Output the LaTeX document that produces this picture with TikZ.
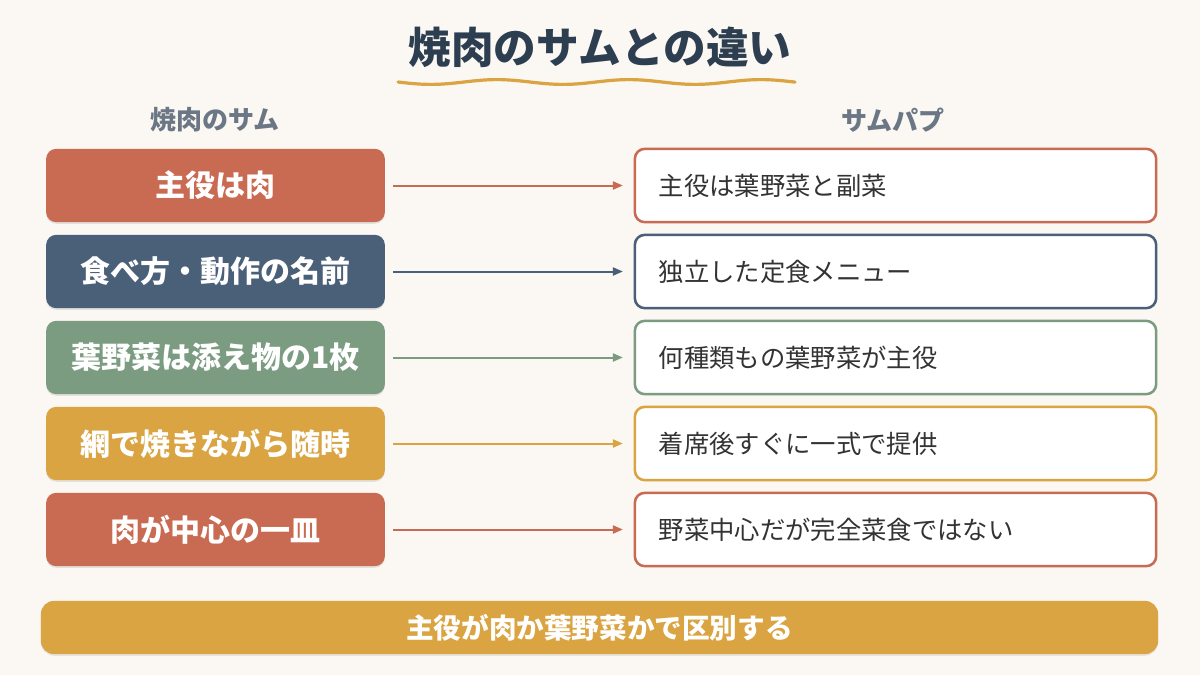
\documentclass[tikz,border=0pt]{standalone}
\usepackage{fontspec}
\setmainfont{Noto Sans CJK JP}
\usetikzlibrary{arrows.meta,shadows}
\definecolor{bgcream}{HTML}{FBF7F2}
\definecolor{titleink}{HTML}{2C3E50}
\definecolor{headgray}{HTML}{6B7785}
\definecolor{terra}{HTML}{C96A52}
\definecolor{slate}{HTML}{4A5F78}
\definecolor{sage}{HTML}{7C9C82}
\definecolor{gold}{HTML}{D9A441}
\definecolor{bodyink}{HTML}{333333}

\begin{document}
\begin{tikzpicture}[x=0.75pt,y=-0.75pt,
  leftbox/.style={fill=#1, rounded corners=7.5pt, minimum width=254pt, minimum height=55pt,
    text=white, font=\fontsize{22.5}{26}\selectfont\bfseries,
    drop shadow={shadow xshift=0pt, shadow yshift=-1.2pt, opacity=0.18}},
  rightbox/.style={draw=#1, line width=1.9pt, fill=white, rounded corners=7.5pt,
    minimum width=391pt, minimum height=55pt, text width=355pt, align=left,
    text=bodyink, font=\fontsize{19}{23}\selectfont},
  link/.style={draw=#1, line width=1.5pt, -{Triangle[length=7.5pt,width=6pt]},
    shorten <=6pt, shorten >=8pt},
  colhead/.style={text=headgray, font=\fontsize{19.5}{23}\selectfont\bfseries}]

%Background and frame
\useasboundingbox[fill=bgcream] (0,0) rectangle (1200,675);

%Title with wavy underline
\node[text=titleink, font=\fontsize{32}{37}\selectfont\bfseries] (title) at (600,47) {焼肉のサムとの違い};
\draw[gold, line width=2.4pt, line cap=round] plot[domain=398:795, samples=90]
  (\x, {82 + 2.4*sin((\x-398)*2.7273)});

%Column headers
\node[colhead] (hleft) at (215,120) {焼肉のサム};
\node[colhead] (hright) at (893,120) {サムパプ};

%Left column
\node[leftbox=terra] (l1) at (215.5,185.5) {主役は肉};
\node[leftbox=slate] (l2) at (215.5,271.5) {食べ方・動作の名前};
\node[leftbox=sage] (l3) at (215.5,357.5) {葉野菜は添え物の1枚};
\node[leftbox=gold] (l4) at (215.5,443.5) {網で焼きながら随時};
\node[leftbox=terra] (l5) at (215.5,529.5) {肉が中心の一皿};

%Right column
\node[rightbox=terra] (r1) at (895.5,185.5) {主役は葉野菜と副菜};
\node[rightbox=slate] (r2) at (895.5,271.5) {独立した定食メニュー};
\node[rightbox=sage] (r3) at (895.5,357.5) {何種類もの葉野菜が主役};
\node[rightbox=gold] (r4) at (895.5,443.5) {着席後すぐに一式で提供};
\node[rightbox=terra] (r5) at (895.5,529.5) {野菜中心だが完全菜食ではない};

%Arrows
\draw[link=terra] (l1) -- (r1);
\draw[link=slate] (l2) -- (r2);
\draw[link=sage] (l3) -- (r3);
\draw[link=gold] (l4) -- (r4);
\draw[link=terra] (l5) -- (r5);

%Summary bar
\node[fill=gold, rounded corners=10pt, minimum width=838pt, minimum height=40pt,
  text=white, font=\fontsize{20.7}{24}\selectfont\bfseries,
  drop shadow={shadow xshift=0pt, shadow yshift=-1.2pt, opacity=0.15}]
  (summary) at (599.5,627.5) {主役が肉か葉野菜かで区別する};
\end{tikzpicture}
\end{document}
